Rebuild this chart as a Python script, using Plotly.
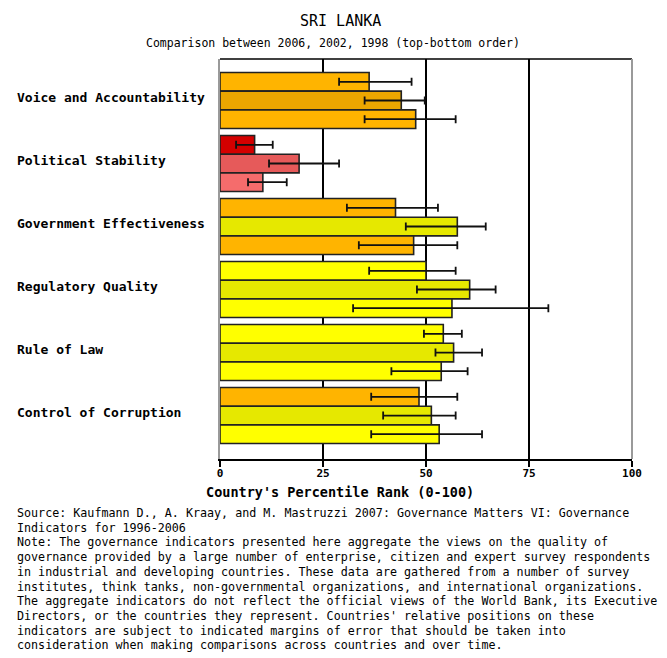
import plotly.graph_objects as go

# ---------------- data ----------------
categories = ["Voice and Accountability", "Political Stability", "Government Effectiveness",
              "Regulatory Quality", "Rule of Law", "Control of Corruption"]
years = ["2006", "2002", "1998"]

rank_2006 = [36.2, 8.4, 42.6, 50.0, 54.2, 48.3]
low_2006 = [28.9, 3.9, 30.8, 36.2, 49.5, 36.7]
high_2006 = [46.5, 12.8, 52.9, 57.2, 58.7, 57.6]

rank_2002 = [44.0, 19.2, 57.6, 60.6, 56.7, 51.3]
low_2002 = [35.1, 11.9, 45.1, 47.8, 52.3, 39.6]
high_2002 = [49.7, 28.9, 64.5, 66.9, 63.6, 57.2]

rank_1998 = [47.5, 10.4, 47.0, 56.3, 53.7, 53.2]
low_1998 = [35.1, 6.8, 33.7, 32.3, 41.6, 36.7]
high_1998 = [57.2, 16.2, 57.6, 79.7, 60.1, 63.6]

x_ticks = [0, 25, 50, 75, 100]

note_lines = [
    "Source: Kaufmann D., A. Kraay, and M. Mastruzzi 2007: Governance Matters VI: Governance",
    "Indicators for 1996-2006",
    "Note: The governance indicators presented here aggregate the views on the quality of",
    "governance provided by a large number of enterprise, citizen and expert survey respondents",
    "in industrial and developing countries. These data are gathered from a number of survey",
    "institutes, think tanks, non-governmental organizations, and international organizations.",
    "The aggregate indicators do not reflect the official views of the World Bank, its Executive",
    "Directors, or the countries they represent. Countries' relative positions on these",
    "indicators are subject to indicated margins of error that should be taken into",
    "consideration when making comparisons across countries and over time.",
]

# ---------------- styling ----------------
def band_color(v, muted):
    if v < 10:
        return "#C80000" if muted else "#D40000"
    if v < 25:
        return "#E65A5A" if muted else "#F56C6C"
    if v < 50:
        return "#EBA600" if muted else "#FFB400"
    if v < 75:
        return "#E6E800" if muted else "#FFFF00"
    return "#3CB43C" if muted else "#4CC84C"

MONO = "DejaVu Sans Mono"

fig = go.Figure()
series = [
    (years[0], rank_2006, low_2006, high_2006, False),
    (years[1], rank_2002, low_2002, high_2002, True),
    (years[2], rank_1998, low_1998, high_1998, False),
]
for name, vals, lows, highs, muted in series:
    fig.add_trace(go.Bar(
        name=name,
        y=categories,
        x=vals,
        orientation="h",
        marker=dict(color=[band_color(v, muted) for v in vals],
                    line=dict(color="#222222", width=1.6)),
        error_x=dict(type="data", symmetric=False,
                     array=[h - v for h, v in zip(highs, vals)],
                     arrayminus=[v - l for v, l in zip(vals, lows)],
                     color="#111111", thickness=1.8, width=4),
        showlegend=False,
        hoverinfo="skip",
    ))

L, R, T, B = 220, 35, 59, 199
W, H = 667, 658
pw = W - L - R
ph = H - T - B

def px_to_paper_x(px):
    return (px - L) / pw

def py_to_paper_y(py):
    return (H - B - py) / ph

annotations = []
for c in categories:
    annotations.append(dict(text="<b>" + c + "</b>", x=px_to_paper_x(15), xref="paper",
                            y=c, yref="y", xanchor="left", yanchor="middle", yshift=3,
                            showarrow=False, font=dict(family=MONO, size=13, color="#000")))

annotations.append(dict(text="SRI LANKA", x=px_to_paper_x(340), y=py_to_paper_y(21),
                        xref="paper", yref="paper", xanchor="center", yanchor="middle",
                        showarrow=False, font=dict(family=MONO, size=15, color="#000")))
annotations.append(dict(text="Comparison between 2006, 2002, 1998 (top-bottom order)",
                        x=px_to_paper_x(333), y=py_to_paper_y(43),
                        xref="paper", yref="paper", xanchor="center", yanchor="middle",
                        showarrow=False, font=dict(family=MONO, size=11.5, color="#000")))
annotations.append(dict(text="<b>Country's Percentile Rank (0-100)</b>",
                        x=px_to_paper_x(204), y=py_to_paper_y(492), xanchor="left",
                        yanchor="middle", xref="paper", yref="paper", showarrow=False,
                        font=dict(family=MONO, size=13.5, color="#000")))
for i, line in enumerate(note_lines):
    annotations.append(dict(text=line, x=px_to_paper_x(15), y=py_to_paper_y(513 + i * 14.7),
                            xanchor="left", yanchor="middle", xref="paper", yref="paper",
                            showarrow=False, font=dict(family=MONO, size=11.7, color="#000")))

shapes = [
    dict(type="line", xref="paper", yref="paper", x0=0, x1=1, y0=1, y1=1,
         line=dict(color="#000", width=1.5)),
    dict(type="line", xref="paper", yref="paper", x0=1, x1=1, y0=0, y1=1,
         line=dict(color="#9a9a9a", width=2), layer="above"),
]

fig.update_layout(
    width=W, height=H,
    margin=dict(l=L, r=R, t=T, b=B, pad=0),
    paper_bgcolor="white", plot_bgcolor="white",
    barmode="group", bargap=0.11, bargroupgap=0,
    annotations=annotations, shapes=shapes,
    xaxis=dict(range=[0, 100], tickvals=x_ticks, ticktext=[f"<b>{t}</b>" for t in x_ticks],
               showgrid=True, gridcolor="#000", gridwidth=1.5, zeroline=False,
               showline=True, linecolor="#000", linewidth=1.5,
               ticks="outside", ticklen=6, tickwidth=1.5, tickcolor="#000",
               ticklabelstandoff=-3,
               tickfont=dict(family=MONO, size=11, color="#000")),
    yaxis=dict(type="category", categoryorder="array", categoryarray=categories,
               range=[5.69, -0.659], showticklabels=False, showgrid=False,
               zeroline=False, showline=True, linecolor="#9a9a9a", linewidth=1.5),
)

fig.write_html("out.html", config={"displayModeBar": False},
               post_script="document.body.style.margin='0px';")
